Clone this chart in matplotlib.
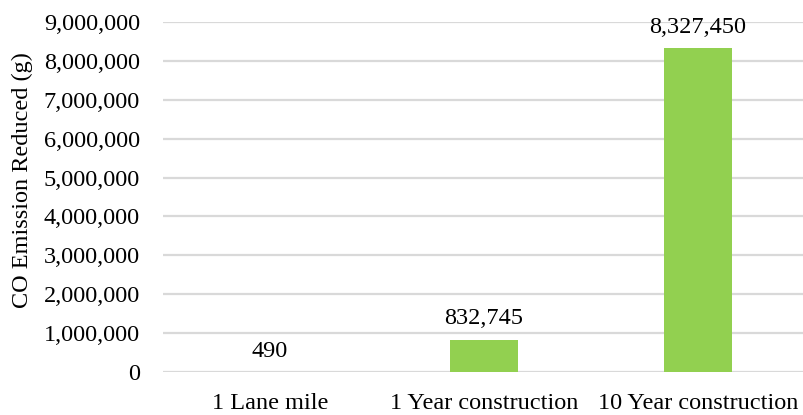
import matplotlib
matplotlib.use("Agg")
import matplotlib.pyplot as plt
from matplotlib.ticker import FuncFormatter, MultipleLocator

categories = ["1 Lane mile", "1 Year construction", "10 Year construction"]
values = [490, 832745, 8327450]

plt.rcParams['font.family'] = ['Liberation Serif', 'DejaVu Serif']
FS = 17.5

fig = plt.figure(figsize=(8.04, 4.15), dpi=100)
ax = fig.add_axes([163/804, 1 - 372/415, (805-163)/804, (372-22)/415])

x = list(range(len(categories)))
ax.bar(x, values, width=0.317, color="#92D050", zorder=3)
ax.set_xlim(-0.5, 2.5)
ax.set_ylim(0, 9000000)
ax.yaxis.set_major_locator(MultipleLocator(1000000))
ax.yaxis.set_major_formatter(FuncFormatter(lambda v, p: f"{int(v):,}"))
ax.grid(axis='y', color="#D9D9D9", linewidth=1.6, zorder=0)
ax.set_axisbelow(True)
for s in ax.spines.values():
    s.set_visible(False)
ax.tick_params(axis='both', length=0, labelsize=FS, colors="#000000")
ax.tick_params(axis='y', pad=16.5)
ax.tick_params(axis='x', pad=15)
ax.set_xticks(x)
ax.set_xticklabels(categories)
ax.set_ylabel("CO Emission Reduced (g)", fontsize=FS, labelpad=2)
ax.yaxis.set_label_coords((33 - 163) / 642, 1 - (180 - 22) / 350)

for xi, v in zip(x, values):
    ax.annotate(f"{v:,}", (xi, v), xytext=(0, 15), textcoords="offset points",
                ha="center", va="center", fontsize=FS)

fig.savefig("out.png", dpi=100)
